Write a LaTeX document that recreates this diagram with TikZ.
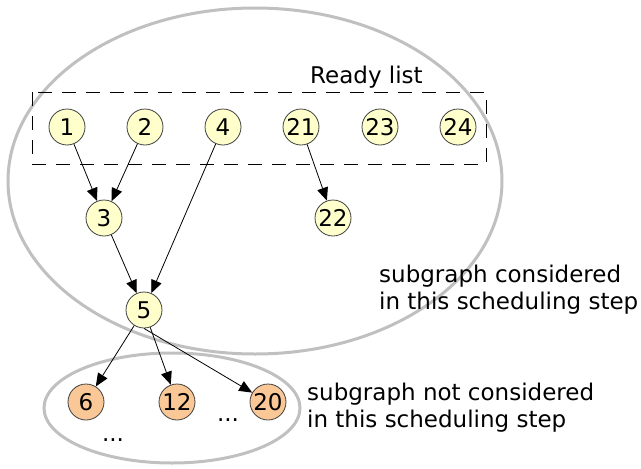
\documentclass[tikz,border=0pt]{standalone}
\usepackage{fontspec}
\setmainfont{DejaVu Sans}
\usetikzlibrary{arrows.meta}
\definecolor{readyfill}{RGB}{255,255,204}
\definecolor{laterfill}{RGB}{250,200,150}
\definecolor{hullgray}{RGB}{192,192,192}
\tikzset{
  task/.style={circle,draw=black!75,line width=0.8pt,fill=readyfill,minimum size=36pt,inner sep=0pt},
  later/.style={task,fill=laterfill},
  dep/.style={-{Triangle[length=13pt,width=11pt]},line width=0.8pt},
  hull/.style={draw=hullgray,line width=3pt},
  note/.style={align=left,inner sep=0pt,anchor=north west}
}
\begin{document}
\begin{tikzpicture}[x=1pt,y=-1pt,font=\fontsize{23}{26.5}\selectfont]
\useasboundingbox (0,0) rectangle (641,469);
\draw[hull] (255,181) ellipse [x radius=247,y radius=173];
\draw[hull] (172,408) ellipse [x radius=128,y radius=55];
\draw[line width=0.8pt,dash pattern=on 14pt off 10pt] (32,92) rectangle (486,164);
\node[anchor=base west,inner sep=0pt] (ready) at (310,83) {Ready list};
% ready tasks
\node[task] (t1) at (67,127) {1};
\node[task] (t2) at (145,127) {2};
\node[task] (t4) at (223,127) {4};
\node[task] (t21) at (301,127) {21};
\node[task] (t23) at (380,127) {23};
\node[task] (t24) at (458,127) {24};
\node[task] (t3) at (104,218) {3};
\node[task] (t22) at (333,218) {22};
\node[task] (t5) at (144,310) {5};
% not yet considered
\node[later] (t6) at (86,402) {6};
\node[later] (t12) at (177,402) {12};
\node[later] (t20) at (268,402) {20};
\node (dotsa) at (113,440) {...};
\node (dotsb) at (228,420) {...};
\draw[dep] (t1)--(t3); \draw[dep] (t2)--(t3);
\draw[dep] (t21)--(t22);
\draw[dep] (t3)--(t5); \draw[dep] (t4)--(t5);
\draw[dep] (t5)--(t6); \draw[dep] (t5)--(t12); \draw[dep] (t5.south)--(t20);
\node[note] (inside) at (379,265) {subgraph considered\\in this scheduling step};
\node[note] (outside) at (307,383) {subgraph not considered\\in this scheduling step};
\end{tikzpicture}
\end{document}
